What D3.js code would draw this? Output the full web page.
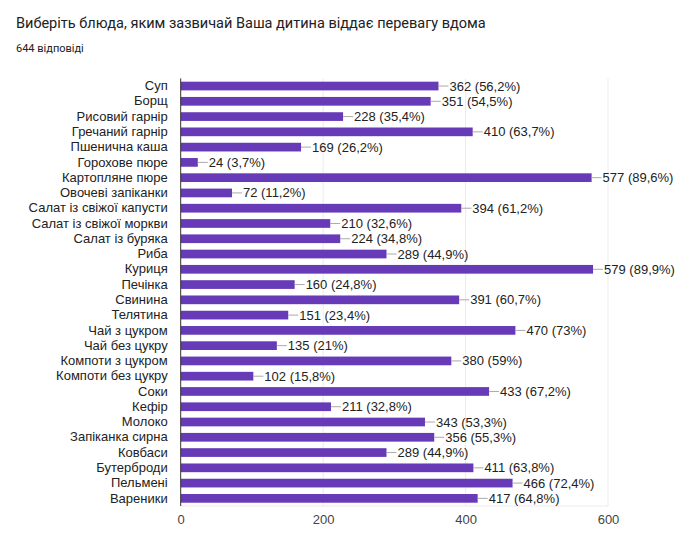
<!DOCTYPE html>
<html>
<head>
<meta charset="utf-8">
<script src="https://cdn.jsdelivr.net/npm/d3@7"></script>
<style>
  body { margin: 0; background: #fff; }
</style>
</head>
<body>
<div id="chart"></div>
<script>
// Horizontal bar chart - dishes children prefer at home

const categories = ["Суп", "Борщ", "Рисовий гарнір", "Гречаний гарнір", "Пшенична каша",
    "Горохове пюре", "Картопляне пюре", "Овочеві запіканки", "Салат із свіжої капусти",
    "Салат із свіжої моркви", "Салат із буряка", "Риба", "Куриця", "Печінка", "Свинина",
    "Телятина", "Чай з цукром", "Чай без цукру", "Компоти з цукром", "Компоти без цукру",
    "Соки", "Кефір", "Молоко", "Запіканка сирна", "Ковбаси", "Бутерброди", "Пельмені", "Вареники"];
const counts = [362, 351, 228, 410, 169, 24, 577, 72, 394, 210, 224, 289, 579, 160, 391,
    151, 470, 135, 380, 102, 433, 211, 343, 356, 289, 411, 466, 417];
const percents = ["56,2", "54,5", "35,4", "63,7", "26,2", "3,7", "89,6", "11,2", "61,2",
    "32,6", "34,8", "44,9", "89,9", "24,8", "60,7", "23,4", "73", "21", "59", "15,8",
    "67,2", "32,8", "53,3", "55,3", "44,9", "63,8", "72,4", "64,8"];
const xTicks = [0, 200, 400, 600];

const width = 682;
const height = 552;
const margin = {top: 78.4, right: 74, bottom: 46, left: 180.7};

const data = categories.map((c, i) => ({name: c, value: counts[i], pct: percents[i]}));

const svg = d3.select("#chart")
    .append("svg")
    .attr("width", width)
    .attr("height", height)
    .style("font-family", "'Liberation Sans', Arial, sans-serif");

svg.append("text")
    .attr("x", 16)
    .attr("y", 28)
    .attr("fill", "#202124")
    .style("font-family", "Roboto, 'Noto Sans', sans-serif")
    .style("font-size", "14.5px")
    .text("Виберіть блюда, яким зазвичай Ваша дитина віддає перевагу вдома");

svg.append("text")
    .attr("x", 16)
    .attr("y", 52)
    .attr("fill", "#202124")
    .style("font-family", "Roboto, 'Noto Sans', sans-serif")
    .style("font-size", "11px")
    .text("644 відповіді");

const inner = svg.append("g")
    .attr("transform", `translate(${margin.left}, ${margin.top})`);

const innerWidth = width - margin.left - margin.right;
const innerHeight = height - margin.top - margin.bottom;

const xScale = d3.scaleLinear()
    .domain([0, 600])
    .range([0, innerWidth]);

const yScale = d3.scaleBand()
    .domain(categories)
    .range([0, innerHeight])
    .paddingInner(0.43)
    .paddingOuter(0.215);

// gridlines
inner.selectAll(".grid")
    .data(xTicks.slice(1))
    .join("line")
    .attr("x1", d => xScale(d))
    .attr("x2", d => xScale(d))
    .attr("y1", 0)
    .attr("y2", innerHeight)
    .attr("stroke", "#ebebeb");

inner.append("line")
    .attr("x1", 0).attr("x2", innerWidth)
    .attr("y1", innerHeight).attr("y2", innerHeight)
    .attr("stroke", "#ebebeb");

// x axis labels
const xAxis = d3.axisBottom(xScale).tickValues(xTicks).tickSize(0).tickPadding(9);
const gx = inner.append("g")
    .attr("transform", `translate(0, ${innerHeight})`)
    .call(xAxis);
gx.select(".domain").remove();
gx.selectAll("text")
    .attr("fill", "#444")
    .style("font-family", "'Liberation Sans', Arial, sans-serif")
    .style("font-size", "13px");

// y axis labels
const yAxis = d3.axisLeft(yScale).tickSize(0).tickPadding(13);
const gy = inner.append("g").call(yAxis);
gy.select(".domain").remove();
gy.selectAll("text")
    .attr("fill", "#222")
    .style("font-family", "'Liberation Sans', Arial, sans-serif")
    .style("font-size", "13px");

// bars
inner.selectAll(".bar")
    .data(data)
    .join("rect")
    .attr("x", 0)
    .attr("y", d => yScale(d.name))
    .attr("width", d => xScale(d.value))
    .attr("height", yScale.bandwidth())
    .attr("fill", "#673ab7");

// leader lines
inner.selectAll(".leader")
    .data(data)
    .join("line")
    .attr("x1", d => xScale(d.value))
    .attr("x2", d => xScale(d.value) + 10)
    .attr("y1", d => yScale(d.name) + yScale.bandwidth() / 2)
    .attr("y2", d => yScale(d.name) + yScale.bandwidth() / 2)
    .attr("stroke", "#aaa")
    .attr("stroke-width", 1);

// value labels
inner.selectAll(".label")
    .data(data)
    .join("text")
    .attr("x", d => xScale(d.value) + 11)
    .attr("y", d => yScale(d.name) + yScale.bandwidth() / 2)
    .attr("dy", "0.35em")
    .attr("fill", "#222")
    .style("font-size", "13px")
    .text(d => `${d.value} (${d.pct}%)`);

// vertical axis line
inner.append("line")
    .attr("x1", 0).attr("x2", 0)
    .attr("y1", 0).attr("y2", innerHeight)
    .attr("stroke", "#333");
</script>
</body>
</html>
